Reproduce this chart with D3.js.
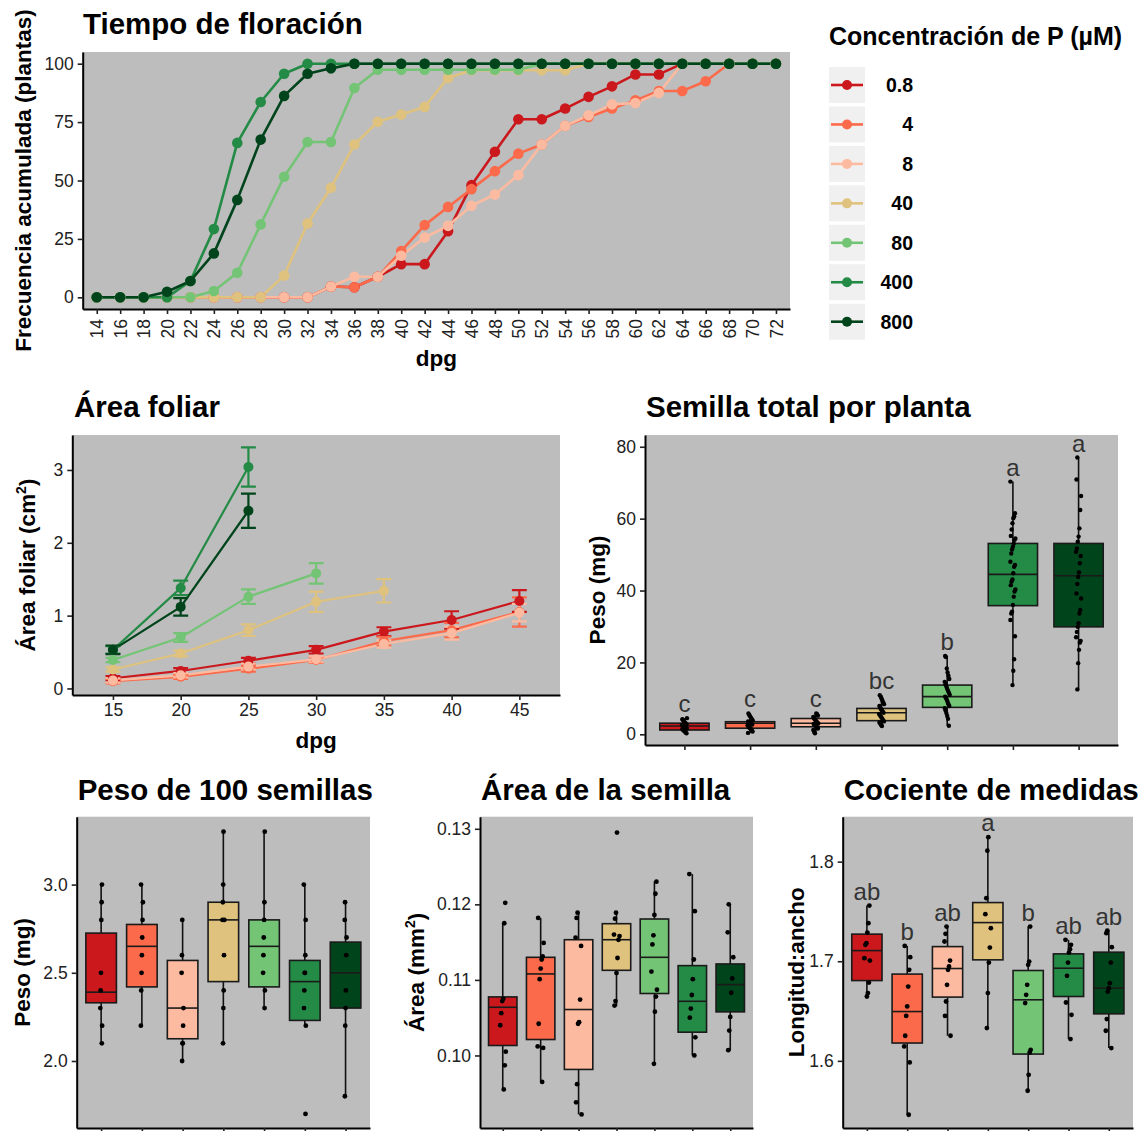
<!DOCTYPE html>
<html><head><meta charset="utf-8">
<script src="https://cdn.jsdelivr.net/npm/d3@7"></script>
<style>
body{margin:0;background:#fff;}
svg{display:block;font-family:"Liberation Sans",Arial,Helvetica,sans-serif;}
</style></head><body>
<svg id="chart" width="1141" height="1131"></svg>
<script>
// ---------------- DATA ----------------
const concentrations = ["0.8","4","8","40","80","400","800"];
const palette = ["#cb181d","#fb6a4a","#fcbba1","#dfc27d","#74c476","#238b45","#00441b"];

// Tiempo de floración (frecuencia acumulada, %)
const floweringDays = [14,16,18,20,22,24,26,28,30,32,34,36,38,40,42,44,46,48,50,52,54,56,58,60,62,64,66,68,70,72];
const flower08  = [0,0,0,0,0,0,0,0,0,0,4.6,4.3,8.8,14.2,14.2,28.3,48,62.3,76.2,76.2,80.8,85.8,90.3,95.4,95.4,100,100,100,100,100];
const flower4   = [0,0,0,0,0,0,0,0,0,0,4.6,4.3,8.8,19.8,30.9,38.7,46.3,54,61.5,65.4,73.4,77.2,80.8,84.3,88.3,88.3,92.5,100,100,100];
const flower8   = [0,0,0,0,0,0,0,0,0,0,4.6,8.8,8.8,17.8,25.6,30.6,39.2,44,52.3,65.4,73.4,77.9,82.6,83.2,87.5,100,100,100,100,100];
const flower40  = [0,0,0,0,0,0,0,0,9.3,31.6,46.9,65.4,75.1,78.2,81.5,93.9,97.2,97.2,97.2,97.2,97.2,100,100,100,100,100,100,100,100,100];
const flower80  = [0,0,0,0,0,2.7,10.5,31.2,51.6,66.5,66.5,89.6,97.4,97.4,97.4,97.4,97.4,97.4,97.4,100,100,100,100,100,100,100,100,100,100,100];
const flower400 = [0,0,0,0,7,29.2,66.1,83.6,95.7,100,100,100,100,100,100,100,100,100,100,100,100,100,100,100,100,100,100,100,100,100];
const flower800 = [0,0,0,2.4,7,18.8,41.7,67.5,86.2,95.7,98,100,100,100,100,100,100,100,100,100,100,100,100,100,100,100,100,100,100,100];
const flowerSeries = [flower08,flower4,flower8,flower40,flower80,flower400,flower800];
const flowerYTicks = [0,25,50,75,100];

// Área foliar (cm2): mean and error
const foliarDays = [15,20,25,30,35,40,45];
const foliar08   = [0.14,0.24,0.38,0.53,0.78,0.94,1.20];
const foliar08E  = [0.03,0.04,0.04,0.05,0.06,0.12,0.15];
const foliar4    = [0.10,0.16,0.27,0.39,0.65,0.80,1.05];
const foliar4E   = [0.03,0.03,0.04,0.04,0.06,0.10,0.20];
const foliar8    = [0.11,0.18,0.30,0.40,0.61,0.76,1.04];
const foliar8E   = [0.03,0.03,0.04,0.04,0.05,0.09,0.12];
const foliar40   = [0.26,0.48,0.80,1.19,1.34];
const foliar40E  = [0.03,0.04,0.08,0.14,0.16];
const foliar80   = [0.39,0.70,1.26,1.58];
const foliar80E  = [0.03,0.06,0.10,0.14];
const foliar400  = [0.53,1.38,3.04];
const foliar400E = [0.05,0.10,0.27];
const foliar800  = [0.53,1.12,2.44];
const foliar800E = [0.06,0.12,0.235];
const foliarMeans = [foliar08,foliar4,foliar8,foliar40,foliar80,foliar400,foliar800];
const foliarErrs  = [foliar08E,foliar4E,foliar8E,foliar40E,foliar80E,foliar400E,foliar800E];
const foliarYTicks = [0,1,2,3];

// Semilla total por planta (mg)
const totalQ1  = [1.2,1.7,2.1,3.8,7.5,35.8,29.9];
const totalMed = [2.3,3.1,3.1,6.0,10.5,44.5,44.1];
const totalQ3  = [3.1,3.5,4.4,7.2,13.7,53.1,53.1];
const totalLo  = [0.3,0.3,0.3,2.3,2.4,13.7,12.5];
const totalHi  = [4.5,5.8,5.8,10.9,21.8,70.3,77.0];
const totalLetters = ["c","c","c","bc","b","a","a"];
const total08  = [0.3,0.5,0.8,1.0,1.2,1.4,1.6,1.8,1.9,2.1,2.3,2.4,2.6,2.8,3.0,3.2,3.5,3.9,4.2,4.5];
const total4   = [0.4,0.8,1.1,1.5,1.7,1.9,2.2,2.5,2.7,2.9,3.0,3.2,3.4,3.6,3.9,4.2,4.6,5.0,5.4,5.8];
const total8   = [0.3,0.7,1.2,1.6,2.0,2.2,2.4,2.7,2.9,3.0,3.2,3.5,3.8,4.1,4.4,4.8,5.2,5.6,5.8];
const total40  = [2.3,2.6,3.0,3.3,3.6,3.9,4.3,4.7,5.0,5.4,5.7,6.0,6.3,6.7,7.0,7.4,7.9,8.4,8.9,9.4,10.0,10.5,10.9];
const total80  = [2.4,4.3,5.1,5.9,6.6,7.3,7.9,8.4,9.0,9.6,10.1,10.5,11.0,11.6,12.1,12.7,13.3,13.9,14.6,15.4,16.3,17.2,18.3,21.5,21.8];
const total400 = [70.3,61.5,60.7,60.1,58.7,57.0,55.2,54.5,54.1,53.1,52.2,51.4,50.3,48.0,47.1,46.6,44.8,43.1,42.5,41.5,40.3,39.7,38.3,36.0,34.1,33.6,31.8,27.3,20.9,17.7,13.7];
const total800 = [77.0,70.9,66.3,62.4,57.3,55.0,53.6,51.7,50.8,49.6,47.6,45.0,43.8,41.8,39.2,37.8,34.6,33.6,30.9,29.9,28.5,27.0,26.0,25.5,23.5,19.8,12.5];
const totalYTicks = [0,20,40,60,80];

// Peso de 100 semillas (mg)
const weightQ1  = [2.33,2.42,2.126,2.45,2.42,2.23,2.30];
const weightMed = [2.39,2.65,2.30,2.80,2.65,2.45,2.50];
const weightQ3  = [2.725,2.774,2.57,2.90,2.80,2.57,2.674];
const weightLo  = [2.1,2.2,2.0,2.1,2.3,2.2,1.8];
const weightHi  = [3.0,3.0,2.8,3.3,3.3,3.0,2.9];
const weight08  = [3.0,2.9,2.8,2.5,2.4,2.3,2.2,2.1];
const weight4   = [3.0,2.9,2.8,2.7,2.6,2.5,2.4,2.2];
const weight8   = [2.8,2.6,2.5,2.3,2.2,2.1,2.1,2.0];
const weight40  = [3.3,3.0,2.9,2.8,2.8,2.6,2.4,2.3,2.1];
const weight80  = [3.3,2.9,2.8,2.7,2.6,2.5,2.4,2.3];
const weight400 = [3.0,2.8,2.6,2.5,2.5,2.4,2.3,2.2,1.7];
const weight800 = [2.9,2.8,2.7,2.6,2.4,2.3,2.2,1.8];
const weightYTicks = [2.0,2.5,3.0];

// Área de la semilla (mm2)
const areaQ1  = [0.10132,0.10211,0.09815,0.11127,0.10820,0.10308,0.10577];
const areaMed = [0.10638,0.11079,0.10608,0.11532,0.11299,0.10717,0.10938];
const areaQ3  = [0.10775,0.11299,0.11532,0.11744,0.11806,0.11189,0.11211];
const areaLo  = [0.09551,0.09652,0.09221,0.10652,0.09890,0.10004,0.10066];
const areaHi  = [0.11753,0.11819,0.11894,0.11885,0.12303,0.12400,0.11995];
const area08  = [0.1202,0.1175,0.1075,0.1072,0.1056,0.1040,0.1005,0.0987,0.0955];
const area4   = [0.1182,0.1149,0.1131,0.1127,0.1115,0.1101,0.1042,0.1012,0.1010,0.0965];
const area8   = [0.1189,0.1182,0.1156,0.1145,0.1074,0.1044,0.1042,0.0962,0.0938,0.0922];
const area40  = [0.1295,0.1189,0.1181,0.1160,0.1158,0.1153,0.1129,0.1109,0.1072,0.1066];
const area80  = [0.1230,0.1214,0.1186,0.1159,0.1147,0.1111,0.1087,0.1078,0.1058,0.0989];
const area400 = [0.1240,0.1191,0.1127,0.1101,0.1080,0.1062,0.1050,0.1024,0.1000];
const area800 = [0.1200,0.1163,0.1130,0.1102,0.1083,0.1051,0.1033,0.1007];
const areaYTicks = [0.10,0.11,0.12,0.13];

// Cociente de medidas (longitud:ancho)
const ratioQ1  = [1.6806,1.6179,1.6640,1.7014,1.6068,1.6646,1.6472];
const ratioMed = [1.7107,1.6495,1.6927,1.7388,1.6613,1.6930,1.6730];
const ratioQ3  = [1.7272,1.6871,1.7147,1.7589,1.6907,1.7074,1.7091];
const ratioLo  = [1.6646,1.5459,1.6252,1.6329,1.5700,1.6219,1.6128];
const ratioHi  = [1.7559,1.7154,1.7348,1.8245,1.7348,1.7215,1.7308];
const ratioLetters = ["ab","b","ab","a","b","ab","ab"];
const ratio08  = [1.7559,1.7382,1.7288,1.7181,1.7165,1.7031,1.7007,1.6786,1.6680,1.6646];
const ratio4   = [1.7154,1.7041,1.6914,1.6746,1.6546,1.6452,1.6252,1.6145,1.5984,1.5459];
const ratio8   = [1.7348,1.7275,1.7198,1.7007,1.6947,1.6914,1.6763,1.6596,1.6452,1.6252];
const ratio40  = [1.8245,1.8110,1.7633,1.7472,1.7332,1.7137,1.6987,1.6680,1.6329];
const ratio80  = [1.7348,1.6997,1.6964,1.6763,1.6663,1.6580,1.6111,1.6084,1.5860,1.5700];
const ratio400 = [1.7215,1.7165,1.7121,1.7087,1.6987,1.6854,1.6586,1.6462,1.6219];
const ratio800 = [1.7308,1.7282,1.7141,1.6987,1.6780,1.6730,1.6696,1.6419,1.6302,1.6128];
const ratioYTicks = [1.6,1.7,1.8];

// ---------------- DRAWING ----------------
const svg = d3.select("#chart");
const PANEL_BG = "#bdbdbd";
const TICK_TXT = "#222";
const TITLE_FS = 29.5, AXTITLE_FS = 22.5, TICK_FS = 17.5;

function panelBg(b){
  svg.append("rect").attr("x",b.l).attr("y",b.t).attr("width",b.r-b.l).attr("height",b.b-b.t).attr("fill",PANEL_BG);
}
function styleAxis(g){
  g.select(".domain").attr("stroke","#000").attr("stroke-width",2);
  g.selectAll(".tick line").attr("stroke","#222").attr("stroke-width",1.6);
  g.selectAll(".tick text").attr("fill",TICK_TXT).attr("font-size",TICK_FS).attr("font-family","Liberation Sans, Arial, sans-serif");
}
function yAxis(b, y, ticks, fmt){
  const g = svg.append("g").attr("transform",`translate(${b.l},0)`)
    .call(d3.axisLeft(y).tickValues(ticks).tickFormat(fmt).tickSize(5).tickSizeOuter(0).tickPadding(4));
  styleAxis(g);
  return g;
}
function xAxisBottom(b, x, ticks, fmt){
  const ax = d3.axisBottom(x).tickSize(5).tickSizeOuter(0).tickPadding(4);
  if (ticks) ax.tickValues(ticks);
  if (fmt) ax.tickFormat(fmt);
  const g = svg.append("g").attr("transform",`translate(0,${b.b})`).call(ax);
  styleAxis(g);
  return g;
}
function title(text, x, y){
  svg.append("text").attr("x",x).attr("y",y).attr("font-size",TITLE_FS).attr("font-weight","bold").attr("fill","#000").text(text);
}
function yTitle(parts, cx, cy){
  const t = svg.append("text").attr("transform",`translate(${cx},${cy}) rotate(-90)`)
    .attr("text-anchor","middle").attr("dy","0.35em").attr("font-size",AXTITLE_FS).attr("font-weight","bold").attr("fill","#000");
  parts.forEach(p=>{
    const s = t.append("tspan").text(p.t);
    if (p.sup){ s.attr("font-size",14).attr("dy",-9); }
    if (p.after){ s.attr("dy",9); }
  });
}
function xTitle(text, cx, y){
  svg.append("text").attr("x",cx).attr("y",y).attr("text-anchor","middle").attr("font-size",AXTITLE_FS).attr("font-weight","bold").attr("fill","#000").text(text);
}
const jit = i => ((((i*37+11)%13)/12) - 0.5)*2;

// ---- Panel 1: Tiempo de floración ----
{
  const b = {l:82.7, r:790, t:52, b:309};
  panelBg(b);
  const x = d3.scalePoint().domain(floweringDays).range([b.l,b.r]).padding(0.6);
  const y = d3.scaleLinear().domain([-5,105]).range([b.b,b.t]);
  const line = d3.line().x((d,i)=>x(floweringDays[i])).y(d=>y(d));
  flowerSeries.forEach((s,k)=>{
    svg.append("path").datum(s).attr("d",line).attr("fill","none").attr("stroke",palette[k]).attr("stroke-width",2.6).attr("stroke-linejoin","round");
  });
  flowerSeries.forEach((s,k)=>{
    svg.append("g").selectAll("circle").data(s).join("circle")
      .attr("cx",(d,i)=>x(floweringDays[i])).attr("cy",d=>y(d)).attr("r",5.3).attr("fill",palette[k]);
  });
  yAxis(b,y,flowerYTicks,d3.format("d"));
  const gx = xAxisBottom(b,x);
  gx.selectAll(".tick text").attr("transform","rotate(-90)").attr("text-anchor","end")
    .attr("x",-10).attr("y",0).attr("dy","0.35em");
  title("Tiempo de floración",83,34);
  xTitle("dpg",(b.l+b.r)/2,366);
  yTitle([{t:"Frecuencia acumulada (plantas)"}],23,(b.t+b.b)/2);

  // Legend
  svg.append("text").attr("x",829).attr("y",45).attr("font-size",25).attr("font-weight","bold").text("Concentración de P (µM)");
  const ly = d3.scalePoint().domain(concentrations).range([85,321.7]);
  concentrations.forEach((c,k)=>{
    const cy = ly(c);
    svg.append("rect").attr("x",829).attr("y",cy-18).attr("width",36).attr("height",36).attr("fill","#f0f0f0");
    svg.append("line").attr("x1",831).attr("x2",863).attr("y1",cy).attr("y2",cy).attr("stroke",palette[k]).attr("stroke-width",2.6);
    svg.append("circle").attr("cx",847).attr("cy",cy).attr("r",5).attr("fill",palette[k]);
    svg.append("text").attr("x",913).attr("y",cy).attr("dy","0.36em").attr("text-anchor","end").attr("font-size",19.5).attr("font-weight","bold").text(c);
  });
}

// ---- Panel 2: Área foliar ----
{
  const b = {l:72.3, r:560, t:435, b:695};
  panelBg(b);
  const x = d3.scaleLinear().domain([12,48]).range([b.l,b.r]);
  const y = d3.scaleLinear().domain([-0.09,3.48]).range([b.b,b.t]);
  const line = d3.line().x((d,i)=>x(foliarDays[i])).y(d=>y(d));
  foliarMeans.forEach((s,k)=>{
    svg.append("path").datum(s).attr("d",line).attr("fill","none").attr("stroke",palette[k]).attr("stroke-width",2.2);
  });
  foliarMeans.forEach((s,k)=>{
    const e = foliarErrs[k];
    const g = svg.append("g").attr("stroke",palette[k]).attr("stroke-width",2.2).attr("fill","none");
    s.forEach((m,i)=>{
      const xc = x(foliarDays[i]), x0 = x(foliarDays[i]-0.55), x1 = x(foliarDays[i]+0.55);
      const yt = y(m+e[i]), yb = y(m-e[i]);
      g.append("path").attr("d",`M${x0},${yt}H${x1}M${xc},${yt}V${yb}M${x0},${yb}H${x1}`);
    });
  });
  foliarMeans.forEach((s,k)=>{
    svg.append("g").selectAll("circle").data(s).join("circle")
      .attr("cx",(d,i)=>x(foliarDays[i])).attr("cy",d=>y(d)).attr("r",5).attr("fill",palette[k]);
  });
  yAxis(b,y,foliarYTicks,d3.format("d"));
  xAxisBottom(b,x,foliarDays,d3.format("d"));
  title("Área foliar",74,417);
  xTitle("dpg",(b.l+b.r)/2,748);
  yTitle([{t:"Área foliar (cm"},{t:"2",sup:true},{t:")",after:true}],27,(b.t+b.b)/2);
}

// ---- Box panels ----
function boxPanel(o){
  const b = o.box;
  panelBg(b);
  const x = d3.scalePoint().domain(concentrations).range([b.l,b.r]).padding(0.6);
  const y = d3.scaleLinear().domain(o.yDomain).range([b.b,b.t]);
  const hw = x.step()*0.375;
  concentrations.forEach((c,k)=>{
    const xc = x(c);
    const g = svg.append("g");
    g.append("line").attr("x1",xc).attr("x2",xc).attr("y1",y(o.hi[k])).attr("y2",y(o.lo[k])).attr("stroke","#111").attr("stroke-width",1.6);
    g.append("rect").attr("x",xc-hw).attr("width",2*hw).attr("y",y(o.q3[k])).attr("height",y(o.q1[k])-y(o.q3[k]))
      .attr("fill",palette[k]).attr("stroke","#1a1a1a").attr("stroke-width",1.6);
    g.append("line").attr("x1",xc-hw).attr("x2",xc+hw).attr("y1",y(o.med[k])).attr("y2",y(o.med[k])).attr("stroke","#1a1a1a").attr("stroke-width",1.6);
  });
  concentrations.forEach((c,k)=>{
    const xc = x(c);
    svg.append("g").selectAll("circle").data(o.points[k]).join("circle")
      .attr("cx",(d,i)=>xc + jit(i+k*5)*o.jitter).attr("cy",d=>y(d)).attr("r",o.dotR||2.4).attr("fill","#000");
  });
  if (o.letters){
    concentrations.forEach((c,k)=>{
      svg.append("text").attr("x",x(c)).attr("y",y(o.hi[k])-6).attr("text-anchor","middle")
        .attr("font-size",24).attr("fill","#333").text(o.letters[k]);
    });
  }
  yAxis(b,y,o.yTicks,o.fmt);
  xAxisBottom(b,x,null,()=>"");
  title(o.title,b.l+1,o.titleY);
  yTitle(o.yLabel,o.yLabelX,(b.t+b.b)/2);
}

boxPanel({box:{l:645,r:1118,t:435,b:745}, yDomain:[-2.97,83.27], yTicks:totalYTicks, fmt:d3.format("d"),
  q1:totalQ1, med:totalMed, q3:totalQ3, lo:totalLo, hi:totalHi,
  points:[total08,total4,total8,total40,total80,total400,total800], jitter:2.5, dotR:2.2,
  letters:totalLetters, title:"Semilla total por planta", titleY:417, yLabel:[{t:"Peso (mg)"}], yLabelX:597});

boxPanel({box:{l:76.7,r:370,t:816.7,b:1128}, yDomain:[1.62,3.385], yTicks:weightYTicks, fmt:d3.format(".1f"),
  q1:weightQ1, med:weightMed, q3:weightQ3, lo:weightLo, hi:weightHi,
  points:[weight08,weight4,weight8,weight40,weight80,weight400,weight800], jitter:1,
  title:"Peso de 100 semillas", titleY:800, yLabel:[{t:"Peso (mg)"}], yLabelX:22});

boxPanel({box:{l:480,r:753,t:816.7,b:1128}, yDomain:[0.0904,0.1316], yTicks:areaYTicks, fmt:d3.format(".2f"),
  q1:areaQ1, med:areaMed, q3:areaQ3, lo:areaLo, hi:areaHi,
  points:[area08,area4,area8,area40,area80,area400,area800], jitter:3,
  title:"Área de la semilla", titleY:800, yLabel:[{t:"Área (mm"},{t:"2",sup:true},{t:")",after:true}], yLabelX:416});

boxPanel({box:{l:842.7,r:1133,t:816.7,b:1128}, yDomain:[1.5326,1.8451], yTicks:ratioYTicks, fmt:d3.format(".1f"),
  q1:ratioQ1, med:ratioMed, q3:ratioQ3, lo:ratioLo, hi:ratioHi,
  points:[ratio08,ratio4,ratio8,ratio40,ratio80,ratio400,ratio800], jitter:3,
  letters:ratioLetters, title:"Cociente de medidas", titleY:800, yLabel:[{t:"Longitud:ancho"}], yLabelX:796});
</script>
</body></html>
